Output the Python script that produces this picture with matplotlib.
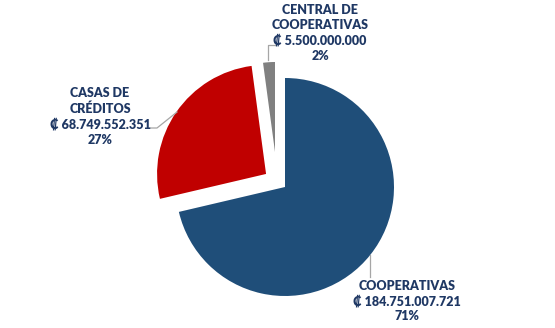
import matplotlib
matplotlib.use("Agg")
import matplotlib.pyplot as plt

categories = ["COOPERATIVAS", "CASAS DE\nCRÉDITOS", "CENTRAL DE\nCOOPERATIVAS"]
values = [184751007721, 68749552351, 5500000000]
value_labels = ["₡ 184.751.007.721", "₡ 68.749.552.351", "₡ 5.500.000.000"]
pct_labels = ["71%", "27%", "2%"]
colors = ["#1F4E79", "#C00000", "#808080"]

W, H = 555, 328
fig = plt.figure(figsize=(W / 100, H / 100), dpi=100)
ax = fig.add_axes([0, 0, 1, 1])

cx, cy, r = 285, H - 187, 109
wedges, _ = ax.pie(values, colors=colors, startangle=90, counterclock=False,
                   explode=[0, 23, 36], center=(cx, cy), radius=r,
                   wedgeprops=dict(linewidth=0))
ax.set_xlim(0, W)
ax.set_ylim(0, H)
ax.set_aspect("equal")
ax.axis("off")
# grey slice drawn a little smaller, as in the reference
wedges[2].set_center((275, H - 152))
wedges[2].set_radius(90)

txt = dict(color="#1F3864", fontsize=9, fontweight="heavy", ha="center",
           va="center", family=["Lato", "DejaVu Sans"], linespacing=1.3)

def lbl(i):
    return f"{categories[i]}\n{value_labels[i]}\n{pct_labels[i]}"

ax.text(407, H - 301, lbl(0), **txt)
ax.text(100, H - 116.5, lbl(1), **txt)
ax.text(320, H - 33, lbl(2), **txt)

lc = dict(color="#A6A6A6", lw=0.9)
ax.plot([370, 370], [H - 255, H - 277], **lc)
ax.plot([150, 157, 177], [H - 128, H - 128, H - 112], **lc)
ax.plot([268, 268, 275], [H - 60, H - 45, H - 45], **lc)

fig.savefig("out.png", dpi=100)
